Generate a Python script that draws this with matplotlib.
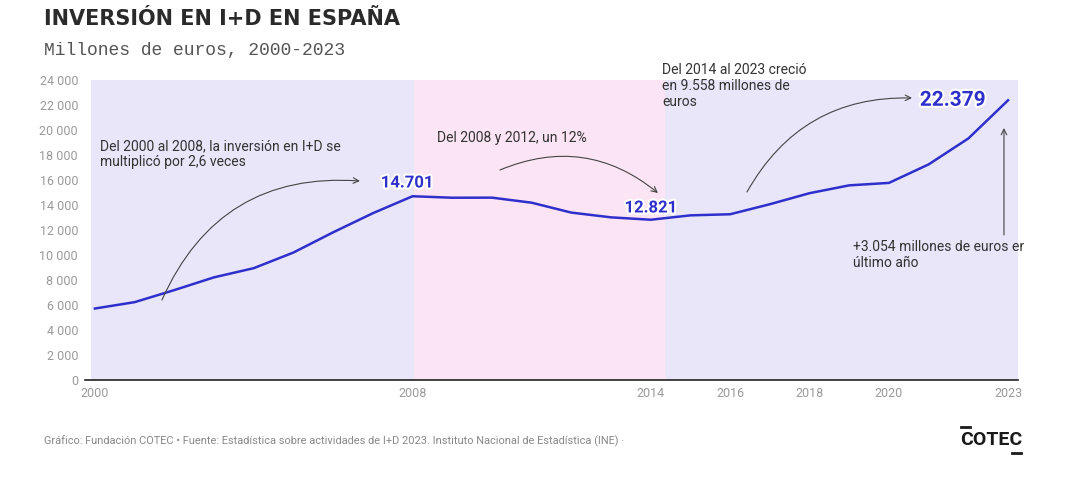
import matplotlib
matplotlib.use("Agg")
import matplotlib.pyplot as plt
import matplotlib.patheffects as pe
from matplotlib.transforms import Bbox, TransformedBbox

years = list(range(2000, 2024))
inversion = [5719, 6227, 7194, 8213, 8946, 10197, 11815, 13342, 14701, 14582,
             14588, 14184, 13392, 13012, 12821, 13172, 13260, 14063, 14946,
             15572, 15768, 17249, 19325, 22379]
xticks = [2000, 2008, 2014, 2016, 2018, 2020, 2023]
yticks = list(range(0, 24001, 2000))
ytick_labels = [f"{v:,}".replace(",", " ") for v in yticks]
highlight_years = [2008, 2014, 2023]
highlight_labels = ["14.701", "12.821", "22.379"]

title = "INVERSIÓN EN I+D EN ESPAÑA"
subtitle = "Millones de euros, 2000-2023"
footer = ("Gráfico: Fundación COTEC • Fuente: Estadística sobre actividades de I+D 2023. "
          "Instituto Nacional de Estadística (INE) ·")
note1 = "Del 2000 al 2008, la inversión en I+D se\nmultiplicó por 2,6 veces"
note2 = "Del 2008 y 2012, un 12%"
note3 = "Del 2014 al 2023 creció\nen 9.558 millones de\neuros"
note4 = "+3.054 millones de euros en\núltimo año"

LINE = "#2f2fcc"
LAV = "#e8e6f8"
PINK = "#fbe4f3"
GRAY = "#9a9a9a"
TXT = "#333333"

W, H = 1077, 487
fig = plt.figure(figsize=(W / 100, H / 100), dpi=100)
fig.patch.set_facecolor("white")

left_px, right_px, top_px, bot_px = 85, 1018, 80, 380
ax = fig.add_axes([left_px / W, 1 - bot_px / H, (right_px - left_px) / W, (bot_px - top_px) / H])
x0, x1 = 1999.75, 2023.25
ax.set_xlim(x0, x1)
ax.set_ylim(0, 24000)
ax.set_facecolor("white")

ax.axvspan(1999.9, 2008.03, color=LAV, lw=0, zorder=0)
ax.axvspan(2008.03, 2014.35, color=PINK, lw=0, zorder=0)
ax.axvspan(2014.35, 2023.25, color=LAV, lw=0, zorder=0)

ax.plot(years, inversion, color=LINE, lw=1.8, zorder=3, solid_joinstyle="round")

for s in ["top", "right", "left"]:
    ax.spines[s].set_visible(False)
ax.spines["bottom"].set_color("#222222")
ax.spines["bottom"].set_linewidth(1.2)
ax.set_yticks(yticks)
ax.set_yticklabels(ytick_labels)
ax.set_xticks(xticks)
ax.set_xticklabels([str(x) for x in xticks])
ax.tick_params(axis="both", length=0, colors=GRAY, labelsize=9)
ax.tick_params(axis="y", pad=5)
ax.tick_params(axis="x", pad=5)
for lab in ax.get_xticklabels() + ax.get_yticklabels():
    lab.set_fontfamily("Roboto")
    lab.set_color(GRAY)

stroke = [pe.withStroke(linewidth=3, foreground="white")]
offsets = {2008: (-0.14, 1060), 2014: (0.0, 940), 2023: (-1.39, 0)}
sizes = {2008: 12, 2014: 12, 2023: 15}
for yr, lab in zip(highlight_years, highlight_labels):
    v = inversion[years.index(yr)]
    dx, dy = offsets[yr]
    ax.text(yr + dx, v + dy, lab, ha="center", va="center", color=LINE,
            fontsize=sizes[yr], fontweight="bold", family="Roboto",
            path_effects=stroke, zorder=5)

def d(px, py):
    return (2000 + (px - 95) / 39.7, (380 - py) * 80)

arrow_kw = dict(arrowstyle="->", color="#444444", lw=0.8, shrinkA=0, shrinkB=0)
ax.annotate("", xy=d(360, 181), xytext=d(162, 300),
            arrowprops=dict(connectionstyle="arc3,rad=-0.35", **arrow_kw), zorder=4)
ax.annotate("", xy=d(658, 193), xytext=d(500, 170),
            arrowprops=dict(connectionstyle="arc3,rad=-0.3", **arrow_kw), zorder=4)
ax.annotate("", xy=d(912, 98), xytext=d(747, 192),
            arrowprops=dict(connectionstyle="arc3,rad=-0.3", **arrow_kw), zorder=4)
ax.annotate("", xy=d(1004, 128), xytext=d(1004, 235),
            arrowprops=dict(connectionstyle="arc3,rad=0", **arrow_kw), zorder=4)

note_kw = dict(color=TXT, fontsize=10, family="Roboto", va="top", ha="left",
               linespacing=1.2, zorder=4)
ax.text(*d(100, 139), note1, **note_kw)
ax.text(*d(437, 131), note2, **note_kw)
ax.text(*d(662, 63), note3, clip_on=False, **note_kw)
t4 = ax.text(*d(853, 240), note4, clip_on=True, **note_kw)
t4.set_clip_box(TransformedBbox(Bbox([[0, 0], [1024 / W, 1]]), fig.transFigure))

fig.text(44 / W, 1 - 19 / H, title, ha="left", va="center", fontsize=15,
         fontweight="bold", family="DejaVu Sans", color="#2a2a2a")
fig.text(44 / W, 1 - 50 / H, subtitle, ha="left", va="center", fontsize=13,
         family="Liberation Mono", color="#555555")
fig.text(44 / W, 1 - 441 / H, footer, ha="left", va="center", fontsize=7.9,
         family="Roboto", color="#888888")

fig.text(991 / W, 1 - 440 / H, "COTEC", ha="center", va="center", fontsize=14,
         fontweight="bold", family="Roboto", color="#1a1a1a")
fig.add_artist(plt.Line2D([961 / W, 970 / W], [1 - 427 / H, 1 - 427 / H],
                          color="#1a1a1a", lw=2))
fig.add_artist(plt.Line2D([1012 / W, 1021 / W], [1 - 453 / H, 1 - 453 / H],
                          color="#1a1a1a", lw=2))

fig.savefig("out.png", dpi=100, facecolor="white")
